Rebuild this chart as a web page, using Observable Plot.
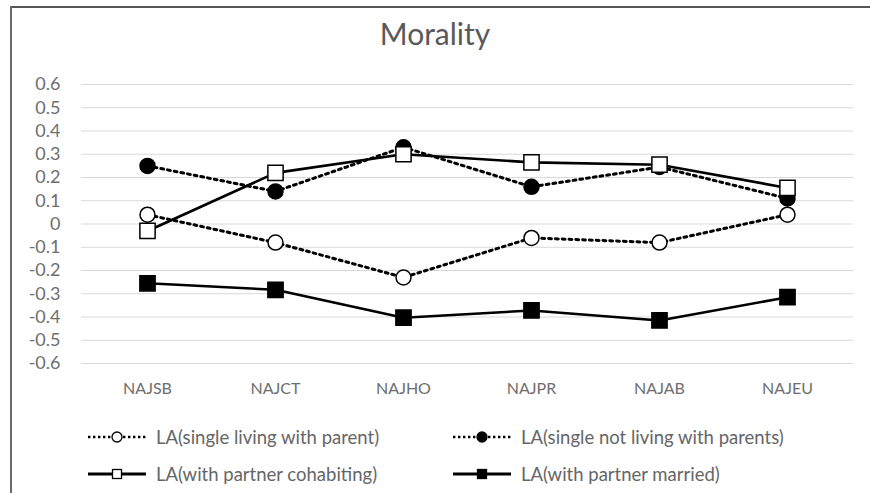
<!DOCTYPE html>
<html><head><meta charset="utf-8">
<script src="https://cdn.jsdelivr.net/npm/d3@7"></script>
<script src="https://cdn.jsdelivr.net/npm/@observablehq/plot@0.6"></script>
<style>
html,body{margin:0;background:#fff;overflow:hidden;}
#wrap{position:relative;width:870px;height:493px;overflow:hidden;font-family:Lato,"Open Sans",sans-serif;}
#wrap svg.plot{position:absolute;left:0;top:0;}
#topline{position:absolute;left:10px;top:6px;width:860px;height:2px;background:#555;}
#leftline{position:absolute;left:10px;top:6px;width:2px;height:487px;background:#6a6a6a;}
#title{position:absolute;left:0;width:870px;top:15px;text-align:center;font-size:30px;line-height:36px;color:#595959;}
.leg{position:absolute;display:flex;align-items:center;font-size:18.5px;line-height:22px;color:#666;white-space:nowrap;}
.leg svg{margin-right:10px;}
</style></head><body><div id="wrap"><div id="topline"></div><div id="leftline"></div><div id="title">Morality</div></div>
<script>
const categories = ["NAJSB","NAJCT","NAJHO","NAJPR","NAJAB","NAJEU"];
const seriesNames = [
  "LA(single living with parent)",
  "LA(single not living with parents)",
  "LA(with partner cohabiting)",
  "LA(with partner married)"
];
const singleWithParent     = [0.04, -0.08, -0.23, -0.06, -0.08, 0.04];
const singleNotWithParents = [0.25, 0.14, 0.33, 0.16, 0.245, 0.11];
const cohabiting           = [-0.03, 0.22, 0.30, 0.265, 0.255, 0.155];
const married              = [-0.255, -0.283, -0.403, -0.372, -0.415, -0.315];
const yTicks = [-0.6,-0.5,-0.4,-0.3,-0.2,-0.1,0,0.1,0.2,0.3,0.4,0.5,0.6];

const seriesValues = [singleWithParent, singleNotWithParents, cohabiting, married];
const styles = [
  {dash:"2.8,4", symbol:"circle", fill:"white", r:7.5},
  {dash:"2.8,4", symbol:"circle", fill:"black", r:7.5},
  {dash:null, symbol:"square", fill:"white", r:8.6},
  {dash:null, symbol:"square", fill:"black", r:8.6}
];
const rows = seriesValues.map((vals, s) => categories.map((c, i) => ({series: seriesNames[s], cat: c, value: vals[i]})));

const marks = [
  Plot.ruleY(yTicks, {stroke:"#d9d9d9", strokeWidth:1.2}),
  Plot.axisY({ticks: yTicks, tickSize:0, tickPadding:21, tickFormat: d => d === 0 ? "0" : d.toFixed(1), fontSize:18, fill:"#6e6e6e", label:null}),
  Plot.axisX({tickSize:0, tickPadding:19, fontSize:16, fill:"#6e6e6e", label:null})
];
rows.forEach((data, s) => {
  const st = styles[s];
  marks.push(Plot.line(data, {x:"cat", y:"value", stroke:"black", strokeWidth: st.dash ? 3 : 2.6, strokeDasharray: st.dash || undefined, curve:"linear"}));
  marks.push(Plot.dot(data, {x:"cat", y:"value", symbol: st.symbol, r: st.r, fill: st.fill, stroke:"black", strokeWidth:1.5}));
});

const chart = Plot.plot({
  width: 870, height: 493,
  marginTop: 84, marginBottom: 130, marginLeft: 81, marginRight: 17,
  x: {type:"point", domain: categories, padding:0.5},
  y: {domain:[-0.6, 0.6]},
  style: {fontFamily: "Lato, 'Open Sans', sans-serif", background:"transparent"},
  marks
});
chart.classList.add("plot");
const wrap = document.getElementById("wrap");
wrap.insertBefore(chart, wrap.firstChild);

// legend
const legPos = [[88, 437], [453, 437], [88, 474], [453, 474]];
seriesNames.forEach((name, s) => {
  const st = styles[s];
  const div = document.createElement("div");
  div.className = "leg";
  div.style.left = legPos[s][0] + "px";
  div.style.top = (legPos[s][1] - 11) + "px";
  const ns = "http://www.w3.org/2000/svg";
  const svg = document.createElementNS(ns, "svg");
  svg.setAttribute("width", 58); svg.setAttribute("height", 22);
  const ln = document.createElementNS(ns, "line");
  ln.setAttribute("x1", 0); ln.setAttribute("x2", 58); ln.setAttribute("y1", 11); ln.setAttribute("y2", 11);
  ln.setAttribute("stroke", "black"); ln.setAttribute("stroke-width", st.dash ? 2.4 : 3);
  if (st.dash) ln.setAttribute("stroke-dasharray", "2.4,2.6");
  svg.appendChild(ln);
  let m;
  if (st.symbol === "circle") {
    m = document.createElementNS(ns, "circle");
    m.setAttribute("cx", 29); m.setAttribute("cy", 11); m.setAttribute("r", 5);
  } else {
    m = document.createElementNS(ns, "rect");
    m.setAttribute("x", 24.5); m.setAttribute("y", 6.5); m.setAttribute("width", 9); m.setAttribute("height", 9);
  }
  m.setAttribute("fill", st.fill); m.setAttribute("stroke", "black"); m.setAttribute("stroke-width", 1.3);
  svg.appendChild(m);
  div.appendChild(svg);
  div.appendChild(document.createTextNode(name));
  wrap.appendChild(div);
});
</script></body></html>
